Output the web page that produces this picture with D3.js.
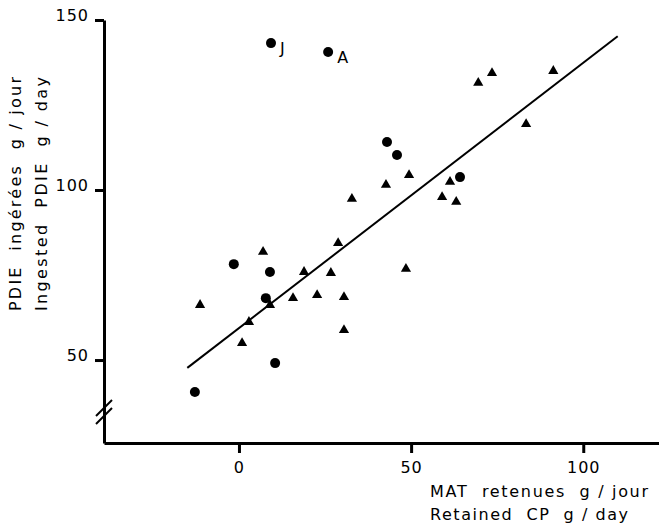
<!DOCTYPE html>
<html>
<head>
<meta charset="utf-8">
<script src="https://cdn.jsdelivr.net/npm/d3@7"></script>
<style>
  body { margin: 0; background: #fff; }
  svg text { font-family: "DejaVu Sans", sans-serif; fill: #000; }
</style>
</head>
<body>
<svg id="chart" width="659" height="527"></svg>
<script>
// circles (labelled J and A are the two outliers at the top)
var circleX = [9.3, 25.9, 43.0, 45.9, 64.2, -1.5, 9.0, 7.8, 10.5, -12.8];
var circleY = [143.2, 140.6, 114.1, 110.3, 103.8, 78.2, 75.9, 68.2, 49.1, 40.6];
var circleLabel = ['J', 'A', '', '', '', '', '', '', '', ''];

// triangles
var triX = [69.5, 73.5, 91.3, 83.4, 49.4, 42.7, 32.8, 61.3, 59.0, 63.1, 28.8, 7.0,
            18.9, 26.7, 48.5, -11.3, 9.0, 15.7, 22.7, 30.5, 2.9, 30.5, 0.9];
var triY = [131.5, 134.4, 135.0, 119.4, 104.4, 101.5, 97.4, 102.4, 97.9, 96.5, 84.4, 81.8,
            75.9, 75.6, 76.8, 66.2, 66.2, 68.2, 69.1, 68.5, 61.2, 58.8, 55.0];

// regression line y = a + b x
var fitIntercept = 59.4;
var fitSlope = 0.78;
var fitRange = [-15, 110];

var xTicks = [0, 50, 100];
var yTicks = [50, 100, 150];
var xTitle = ['MAT  retenues  g / jour', 'Retained  CP  g / day'];
var yTitle = ['PDIE  ingérées  g / jour', 'Ingested  PDIE  g / day'];

var svg = d3.select('#chart');

var x = d3.scaleLinear().domain([-39.2, 122]).range([104, 659]);
var y = d3.scaleLinear().domain([25.6, 150]).range([443, 20]);

// y axis
var yAxis = svg.append('g')
  .attr('transform', 'translate(' + x(-39.2) + ',0)')
  .call(d3.axisLeft(y).tickValues(yTicks).tickSize(9).tickSizeOuter(0).tickPadding(6));

// x axis
var xAxis = svg.append('g')
  .attr('transform', 'translate(0,' + y(25.6) + ')')
  .call(d3.axisBottom(x).tickValues(xTicks).tickSize(10).tickSizeOuter(0));

[yAxis, xAxis].forEach(function(ax) {
  ax.select('.domain').attr('stroke', '#000').attr('stroke-width', 3);
  ax.selectAll('.tick line').attr('stroke', '#000').attr('stroke-width', 3);
  ax.selectAll('.tick text')
    .style('font-size', '16px')
    .style('letter-spacing', '1px')
    .attr('fill', '#000');
});
yAxis.selectAll('.tick text').attr('dy', '0').attr('x', -15);
xAxis.selectAll('.tick text').attr('dy', '0').attr('y', 30);

// axis break marks
var breakY = 408;
[0, 8].forEach(function(off) {
  svg.append('line')
    .attr('x1', x(-39.2) - 8).attr('y1', breakY + off + 8)
    .attr('x2', x(-39.2) + 8).attr('y2', breakY + off - 8)
    .attr('stroke', '#000').attr('stroke-width', 2);
});

// regression line
svg.append('line')
  .attr('x1', x(fitRange[0])).attr('y1', y(fitIntercept + fitSlope * fitRange[0]))
  .attr('x2', x(fitRange[1])).attr('y2', y(fitIntercept + fitSlope * fitRange[1]))
  .attr('stroke', '#000').attr('stroke-width', 2);

// triangles
svg.append('g').selectAll('path')
  .data(d3.range(triX.length))
  .enter()
  .append('path')
  .attr('d', d3.symbol(d3.symbolTriangle, 45))
  .attr('transform', function(i) { return 'translate(' + x(triX[i]) + ',' + y(triY[i]) + ')'; })
  .attr('fill', '#000');

// circles
svg.append('g').selectAll('circle')
  .data(d3.range(circleX.length))
  .enter()
  .append('circle')
  .attr('cx', function(i) { return x(circleX[i]); })
  .attr('cy', function(i) { return y(circleY[i]); })
  .attr('r', 5)
  .attr('fill', '#000');

svg.append('g').selectAll('text')
  .data(d3.range(circleX.length).filter(function(i) { return circleLabel[i]; }))
  .enter()
  .append('text')
  .attr('x', function(i) { return x(circleX[i]) + 9; })
  .attr('y', function(i) { return y(circleY[i]) + 11; })
  .style('font-size', '16px')
  .text(function(i) { return circleLabel[i]; });

// x title
svg.append('g').selectAll('text')
  .data(xTitle)
  .enter()
  .append('text')
  .attr('x', 430)
  .attr('y', function(d, i) { return 497 + i * 23; })
  .attr('textLength', function(d, i) { return i == 0 ? 218 : 198; })
  .attr('lengthAdjust', 'spacing')
  .style('font-size', '16px')
  .style('white-space', 'pre')
  .text(function(d) { return d; });

// y title
svg.append('g').selectAll('text')
  .data(yTitle)
  .enter()
  .append('text')
  .attr('transform', function(d, i) { return 'translate(' + (21 + i * 26) + ',311) rotate(-90)'; })
  .attr('textLength', 234)
  .attr('lengthAdjust', 'spacing')
  .style('font-size', '16px')
  .style('white-space', 'pre')
  .text(function(d) { return d; });
</script>
</body>
</html>
